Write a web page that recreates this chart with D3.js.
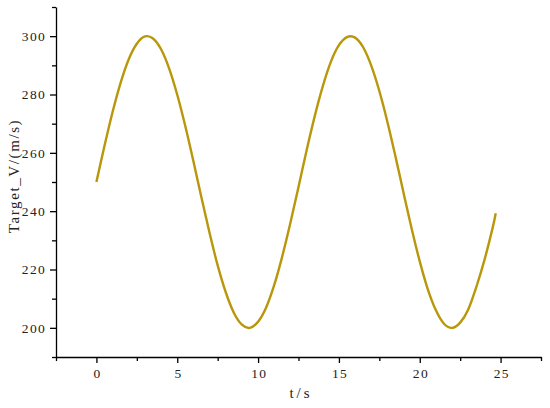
<!DOCTYPE html>
<html>
<head>
<meta charset="utf-8">
<script src="https://cdn.jsdelivr.net/npm/d3@7"></script>
<style>
  body { margin: 0; background: #fff; }
  svg { display: block; }
  .axis text { font-family: "Liberation Serif", "DejaVu Serif", serif; font-size: 13.5px; letter-spacing: 1.3px; fill: #222; }
  .axis path, .axis line { stroke: #000; stroke-width: 1.3; }
  .title { font-family: "Liberation Serif", "DejaVu Serif", serif; font-size: 15px; fill: #222; }
</style>
</head>
<body>
<div id="chart"></div>
<script>
// time (s) and target speed (m/s)
var times = [0, 0.5, 1, 1.5, 2, 2.5, 3, 3.5, 4, 4.5, 5, 5.5, 6, 6.5, 7, 7.5, 8, 8.5, 9, 9.5,
  10, 10.5, 11, 11.5, 12, 12.5, 13, 13.5, 14, 14.5, 15, 15.5, 16, 16.5, 17, 17.5, 18, 18.5, 19, 19.5,
  20, 20.5, 21, 21.5, 22, 22.5, 23, 23.5, 24, 24.5, 24.7];
var speeds = [250, 262.4, 274, 284.1, 292.1, 297.4, 299.9, 299.2, 295.5, 288.9, 279.9, 269.1, 257.1, 244.6, 232.5, 221.4, 212.2, 205.2, 201.1, 200,
  202.1, 207, 214.7, 224.6, 236, 248.3, 260.8, 272.5, 282.8, 291.2, 296.9, 299.7, 299.5, 296.2, 289.9, 281.2, 270.6, 258.7, 246.2, 234,
  222.8, 213.2, 206, 201.4, 200, 201.8, 206.3, 214, 223.2, 234.1, 239.3];
var xTicks = [0, 5, 10, 15, 20, 25];
var yTicks = [200, 220, 240, 260, 280, 300];
var xTitle = "t/s";
var yTitle = "Target_V/(m/s)";

var width = 550, height = 408;
var margin = {left: 56, right: 9, top: 7, bottom: 51};

var svg = d3.select("#chart").append("svg")
  .attr("width", width)
  .attr("height", height);

var x = d3.scaleLinear().domain([-2.5, 27.5]).range([margin.left, width - margin.right]);
var y = d3.scaleLinear().domain([190, 310]).range([height - margin.bottom, margin.top]);

var data = times.map(function(t, i) { return {t: t, v: speeds[i]}; });

// minor ticks sit halfway between the labelled ones
var xMinor = d3.range(-2.5, 27.6, 5);
var yMinor = d3.range(190, 311, 20);

svg.append("g")
  .attr("class", "axis")
  .attr("transform", "translate(0," + (height - margin.bottom) + ")")
  .call(d3.axisBottom(x).tickValues(xMinor).tickSize(4).tickFormat("").tickSizeOuter(0));

svg.append("g")
  .attr("class", "axis")
  .attr("transform", "translate(0," + (height - margin.bottom) + ")")
  .call(d3.axisBottom(x).tickValues(xTicks).tickSize(6).tickPadding(5).tickSizeOuter(0))
  .call(function(g) {
    g.select(".domain").remove();
    g.selectAll("text").attr("dx", "0.65px");
  });

svg.append("g")
  .attr("class", "axis")
  .attr("transform", "translate(" + margin.left + ",0)")
  .call(d3.axisLeft(y).tickValues(yMinor).tickSize(4).tickFormat("").tickSizeOuter(0));

svg.append("g")
  .attr("class", "axis")
  .attr("transform", "translate(" + margin.left + ",0)")
  .call(d3.axisLeft(y).tickValues(yTicks).tickSize(6).tickPadding(4).tickSizeOuter(0))
  .call(function(g) { g.select(".domain").remove(); });

//the speed curve
svg.append("path")
  .datum(data)
  .attr("fill", "none")
  .attr("stroke", "#b8970b")
  .attr("stroke-width", 2.4)
  .attr("stroke-linejoin", "round")
  .attr("d", d3.line()
    .x(function(d) { return x(d.t); })
    .y(function(d) { return y(d.v); })
    .curve(d3.curveCardinal.tension(0)));

//axis titles
svg.append("text")
  .attr("class", "title")
  .attr("x", 301)
  .attr("y", 398)
  .attr("text-anchor", "middle")
  .style("letter-spacing", "3px")
  .text(xTitle);

svg.append("text")
  .attr("class", "title")
  .attr("transform", "translate(19,176) rotate(-90)")
  .attr("text-anchor", "middle")
  .style("letter-spacing", "1.6px")
  .text(yTitle);
</script>
</body>
</html>
